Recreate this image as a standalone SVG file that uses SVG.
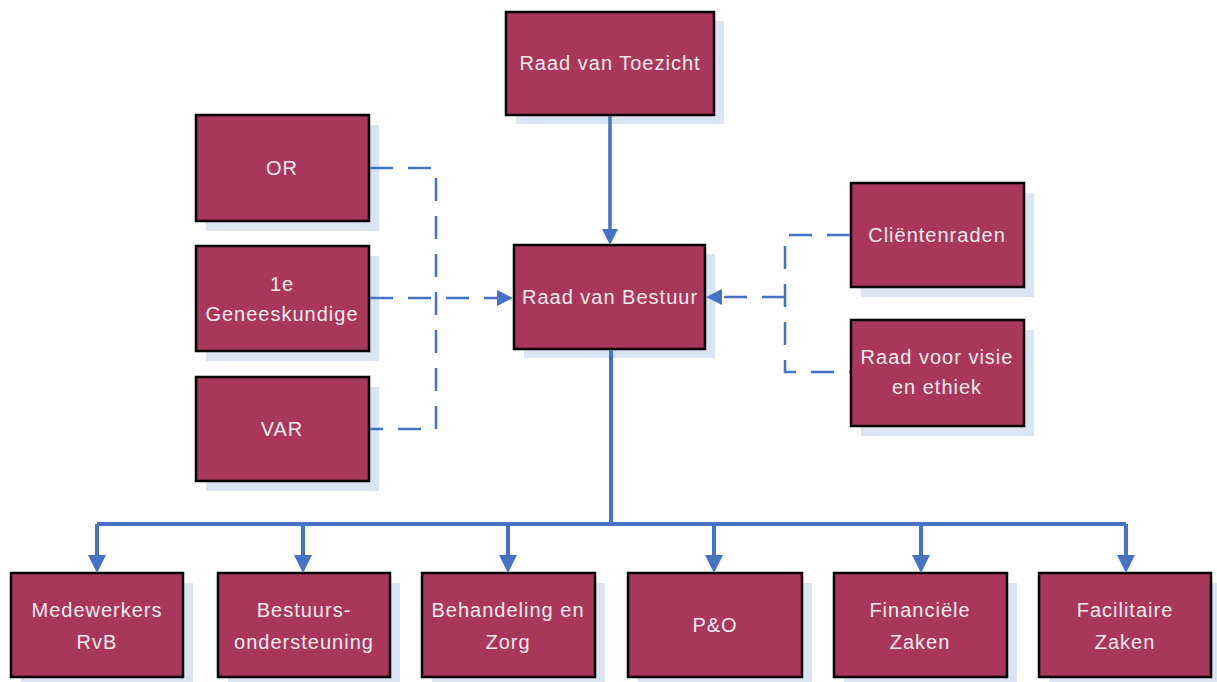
<svg xmlns="http://www.w3.org/2000/svg" width="1217" height="682" viewBox="0 0 1217 682">
<style>
.sh{fill:#dbe5f1}
.bx{fill:#a9375c;stroke:#000;stroke-width:2.5}
.t{font-family:"Liberation Sans",Arial,sans-serif;font-size:20px;letter-spacing:1px;fill:#f5e9ee;text-anchor:middle}
.sol{fill:none;stroke:#4472c4;stroke-width:3.5}
.bus{fill:none;stroke:#4472c4;stroke-width:4}
.dash{fill:none;stroke:#4472c4;stroke-width:2.5;stroke-dasharray:23 15}
</style>
<defs>
<marker id="arr" viewBox="0 0 16 16" refX="0" refY="8" markerWidth="16" markerHeight="16" markerUnits="userSpaceOnUse" orient="auto">
<path d="M0,0 L16,8 L0,16 z" fill="#4472c4"/>
</marker>
<marker id="arrb" viewBox="0 0 18 18" refX="0" refY="9" markerWidth="18" markerHeight="18" markerUnits="userSpaceOnUse" orient="auto">
<path d="M0,0 L18,9 L0,18 z" fill="#4472c4"/>
</marker>
</defs>
<rect width="1217" height="682" fill="#fff"/>
<g id="rvt"><rect class="sh" x="516" y="21" width="208" height="103"/><rect class="bx" x="506" y="12" width="208" height="103"/><text class="t" x="610" y="70">Raad van Toezicht</text></g>
<g id="rvb"><rect class="sh" x="524" y="254" width="191" height="104"/><rect class="bx" x="514" y="245" width="191" height="104"/><text class="t" x="610" y="304">Raad van Bestuur</text></g>
<g id="or"><rect class="sh" x="206" y="125" width="173" height="106"/><rect class="bx" x="196" y="115" width="173" height="106"/><text class="t" x="282" y="175">OR</text></g>
<g id="gen"><rect class="sh" x="206" y="256" width="173" height="105"/><rect class="bx" x="196" y="246" width="173" height="105"/><text class="t" x="282" y="291">1e</text><text class="t" x="282" y="321">Geneeskundige</text></g>
<g id="var"><rect class="sh" x="206" y="387" width="173" height="104"/><rect class="bx" x="196" y="377" width="173" height="104"/><text class="t" x="282" y="436">VAR</text></g>
<g id="client"><rect class="sh" x="861" y="193" width="173" height="104"/><rect class="bx" x="851" y="183" width="173" height="104"/><text class="t" x="937" y="242">Cliëntenraden</text></g>
<g id="visie"><rect class="sh" x="861" y="330" width="173" height="106"/><rect class="bx" x="851" y="320" width="173" height="106"/><text class="t" x="937" y="364">Raad voor visie</text><text class="t" x="937" y="394">en ethiek</text></g>
<g id="med"><rect class="sh" x="21" y="583" width="172" height="104"/><rect class="bx" x="11" y="573" width="172" height="104"/><text class="t" x="97" y="617">Medewerkers</text><text class="t" x="97" y="649">RvB</text></g>
<g id="best"><rect class="sh" x="228" y="583" width="172" height="104"/><rect class="bx" x="218" y="573" width="172" height="104"/><text class="t" x="304" y="617">Bestuurs-</text><text class="t" x="304" y="649">ondersteuning</text></g>
<g id="beh"><rect class="sh" x="432" y="583" width="173" height="104"/><rect class="bx" x="422" y="573" width="173" height="104"/><text class="t" x="508" y="617">Behandeling en</text><text class="t" x="508" y="649">Zorg</text></g>
<g id="po"><rect class="sh" x="638" y="583" width="174" height="104"/><rect class="bx" x="628" y="573" width="174" height="104"/><text class="t" x="715" y="632">P&amp;O</text></g>
<g id="fin"><rect class="sh" x="844" y="583" width="173" height="104"/><rect class="bx" x="834" y="573" width="173" height="104"/><text class="t" x="920" y="617">Financiële</text><text class="t" x="920" y="649">Zaken</text></g>
<g id="fac"><rect class="sh" x="1049" y="583" width="172" height="104"/><rect class="bx" x="1039" y="573" width="172" height="104"/><text class="t" x="1125" y="617">Facilitaire</text><text class="t" x="1125" y="649">Zaken</text></g>
<g id="connectors">
<path class="sol" d="M610,116 V229" marker-end="url(#arr)"/>
<path class="dash" d="M370,168 H436 V429 H370"/>
<path class="dash" d="M370,298 H497" marker-end="url(#arr)"/>
<path class="dash" d="M850,235 H785 V372 H850"/>
<path class="dash" d="M785,297 H722" marker-end="url(#arr)"/>
<path class="bus" d="M611,350 V524"/>
<path class="bus" d="M97,524 H1126"/>
<path class="bus" d="M97,524 V555" marker-end="url(#arrb)"/>
<path class="bus" d="M303,524 V555" marker-end="url(#arrb)"/>
<path class="bus" d="M508,524 V555" marker-end="url(#arrb)"/>
<path class="bus" d="M714,524 V555" marker-end="url(#arrb)"/>
<path class="bus" d="M921,524 V555" marker-end="url(#arrb)"/>
<path class="bus" d="M1126,524 V555" marker-end="url(#arrb)"/>
</g>
</svg>
